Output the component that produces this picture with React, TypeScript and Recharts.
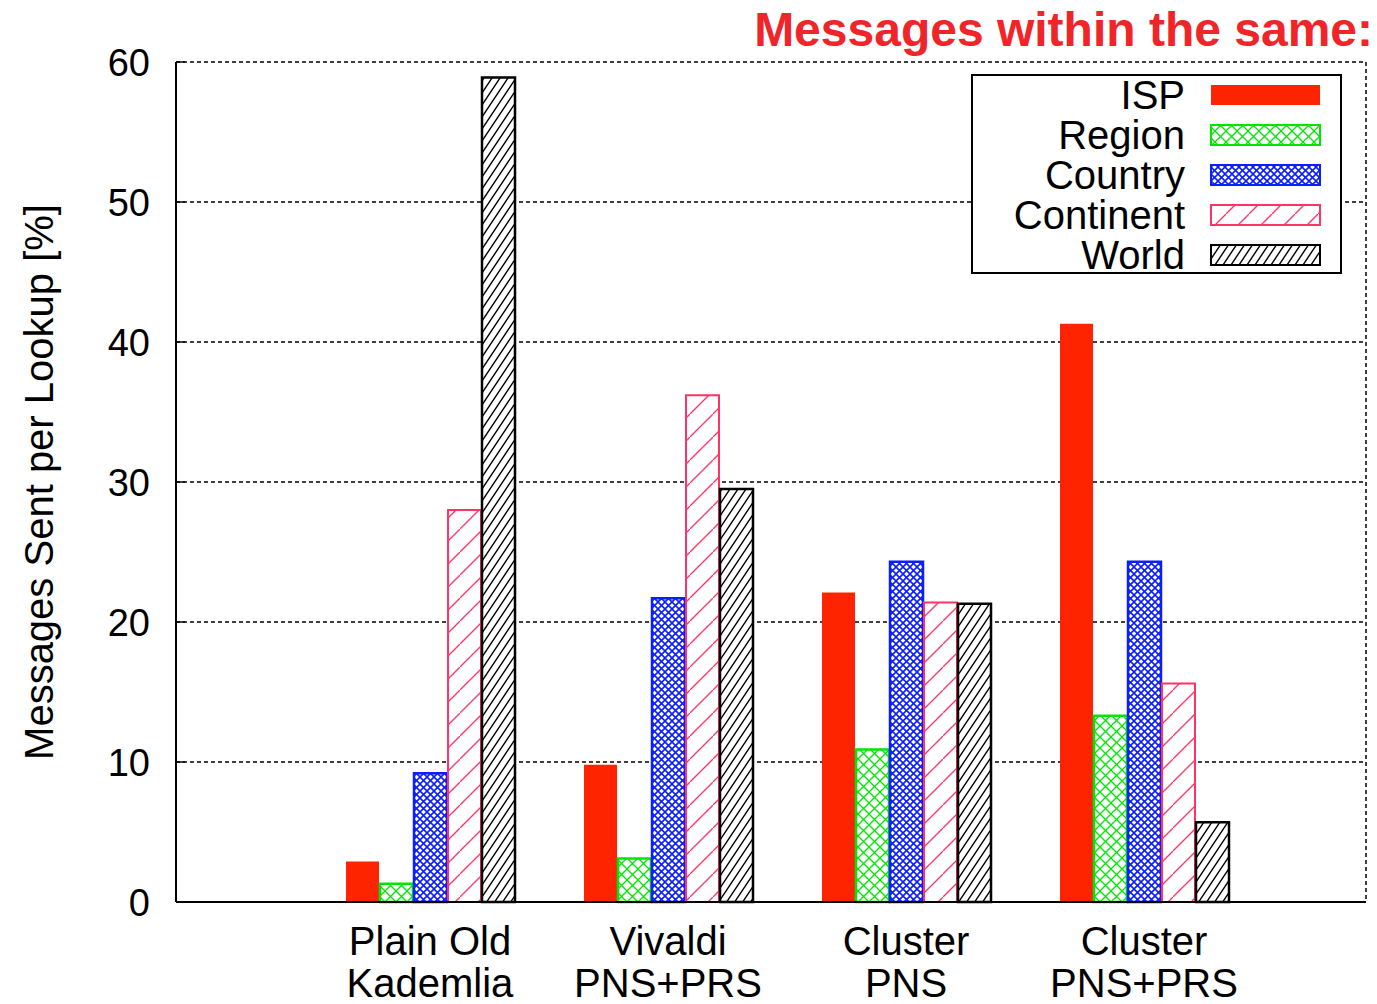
import React from "react";
import { BarChart, Bar, XAxis, YAxis, CartesianGrid, Legend } from "recharts";

const categories = ["Plain Old\nKademlia", "Vivaldi\nPNS+PRS", "Cluster\nPNS", "Cluster\nPNS+PRS"];
const isp = [2.9, 9.8, 22.1, 41.3];
const region = [1.3, 3.1, 10.9, 13.3];
const country = [9.2, 21.7, 24.3, 24.3];
const continent = [28.0, 36.2, 21.4, 15.6];
const world = [58.9, 29.5, 21.3, 5.7];
const yTicks = [0, 10, 20, 30, 40, 50, 60];
const seriesNames = ["ISP", "Region", "Country", "Continent", "World"];
const title = "Messages within the same:";
const yLabel = "Messages Sent per Lookup [%]";

const data = categories.map((c, i) => ({
  name: c,
  ISP: isp[i],
  Region: region[i],
  Country: country[i],
  Continent: continent[i],
  World: world[i],
}));

const FONT = "'Liberation Sans', Arial, Helvetica, sans-serif";

const styles: Record<string, { fill: string; stroke: string; sw: number }> = {
  ISP: { fill: "#ff2400", stroke: "#ff2400", sw: 0 },
  Region: { fill: "url(#patRegion)", stroke: "#00e600", sw: 2.5 },
  Country: { fill: "url(#patCountry)", stroke: "#0a1eff", sw: 2.5 },
  Continent: { fill: "url(#patContinent)", stroke: "#ff3366", sw: 2 },
  World: { fill: "url(#patWorld)", stroke: "#000000", sw: 2.5 },
};

const PLOT_LEFT = 176;

const XTick = (props: any) => {
  const { x, y, payload } = props;
  const lines = String(payload.value).split("\n");
  return (
    <g>
      {lines.map((l, i) => (
        <text key={i} x={x} y={y + 53 + i * 42} textAnchor="middle" fontSize={40} fontFamily={FONT} fill="#000">
          {l}
        </text>
      ))}
    </g>
  );
};

const YTick = (props: any) => {
  const { y, payload } = props;
  return (
    <g>
      <line x1={PLOT_LEFT} x2={PLOT_LEFT + 9} y1={y} y2={y} stroke="#000" strokeWidth={1.5} />
      <text x={150} y={y + 14} textAnchor="end" fontSize={38} fontFamily={FONT} fill="#000">
        {payload.value}
      </text>
    </g>
  );
};

const LegendContent = (props: any) => {
  const raw = props.payload || [];
  const payload = seriesNames
    .map((n) => raw.find((p: any) => p.dataKey === n))
    .filter(Boolean);
  return (
    <div
      style={{
        width: 371,
        height: 200,
        boxSizing: "border-box",
        border: "2px solid #000",
        background: "#fff",
      }}
    >
      <svg width={367} height={196} style={{ display: "block", overflow: "visible" }}>
        {payload.map((p: any, i: number) => {
          const key = p.dataKey as string;
          const st = styles[key];
          const cy = 19 + i * 40;
          return (
            <g key={key}>
              <text x={212} y={cy + 14} textAnchor="end" fontSize={40} fontFamily={FONT} fill="#000">
                {p.value}
              </text>
              <rect
                x={238}
                y={cy - 10}
                width={109}
                height={20}
                fill={st.fill}
                stroke={st.stroke}
                strokeWidth={key === "ISP" ? 0 : 2}
              />
            </g>
          );
        })}
      </svg>
    </div>
  );
};

export default function App() {
  return (
    <div style={{ position: "absolute", left: 0, top: 0, width: 1377, height: 1004, background: "#fff" }}>
      <div
        style={{
          position: "absolute",
          right: 4,
          top: 2,
          fontFamily: FONT,
          fontWeight: "bold",
          fontSize: 48,
          color: "#f0252a",
          lineHeight: "56px",
          whiteSpace: "nowrap",
          zIndex: 2,
        }}
      >
        {title}
      </div>
      <BarChart
        width={1377}
        height={1004}
        data={data}
        margin={{ top: 62, right: 10, bottom: 2, left: 0 }}
        barSize={33}
        barGap={1}
      >
        <defs>
          <pattern id="patRegion" patternUnits="userSpaceOnUse" width="11" height="11">
            <rect width="11" height="11" fill="#fff" />
            <path d="M0,0 L11,11 M11,0 L0,11" stroke="#00e600" strokeWidth="1.3" />
          </pattern>
          <pattern id="patCountry" patternUnits="userSpaceOnUse" width="7" height="7">
            <rect width="7" height="7" fill="#fff" />
            <path d="M0,0 L7,7 M7,0 L0,7" stroke="#0a1eff" strokeWidth="1.6" />
          </pattern>
          <pattern id="patContinent" patternUnits="userSpaceOnUse" width="23" height="23">
            <rect width="23" height="23" fill="#fff" />
            <path d="M-2,25 L25,-2" stroke="#ff3366" strokeWidth="1.3" />
          </pattern>
          <pattern id="patWorld" patternUnits="userSpaceOnUse" width="8" height="12">
            <rect width="8" height="12" fill="#fff" />
            <path d="M0,12 L8,0 M-2,3 L2,-3 M6,15 L10,9" stroke="#000" strokeWidth="1.4" />
          </pattern>
        </defs>
        <CartesianGrid vertical={false} stroke="#000" strokeDasharray="4 3" strokeWidth={1.5} />
        <XAxis
          dataKey="name"
          interval={0}
          height={100}
          padding={{ left: 135, right: 103 }}
          tick={<XTick />}
          tickLine={false}
          tickSize={0}
          tickMargin={0}
          axisLine={{ stroke: "#000", strokeWidth: 2 }}
        />
        <YAxis
          domain={[0, 60]}
          ticks={yTicks}
          width={176}
          interval={0}
          tick={<YTick />}
          tickLine={false}
          axisLine={{ stroke: "#000", strokeWidth: 2 }}
          label={{
            content: () => (
              <text
                x={0}
                y={0}
                transform="translate(53,482) rotate(-90)"
                textAnchor="middle"
                fontSize={40}
                fontFamily={FONT}
                fill="#000"
              >
                {yLabel}
              </text>
            ),
          }}
        />
        <YAxis
          yAxisId="r"
          orientation="right"
          domain={[0, 60]}
          width={1}
          tick={false}
          tickLine={false}
          axisLine={{ stroke: "#000", strokeWidth: 1.5, strokeDasharray: "4 3" }}
        />
        <Legend
          layout="vertical"
          align="center"
          verticalAlign="middle"
          wrapperStyle={{ position: "absolute", left: 971, top: 74, width: 371, height: 200, margin: 0 }}
          content={<LegendContent />}
        />
        {seriesNames.map((k) => (
          <Bar
            key={k}
            dataKey={k}
            name={k}
            fill={styles[k].fill}
            stroke={styles[k].sw ? styles[k].stroke : "none"}
            strokeWidth={styles[k].sw}
            isAnimationActive={false}
          />
        ))}
      </BarChart>
    </div>
  );
}
